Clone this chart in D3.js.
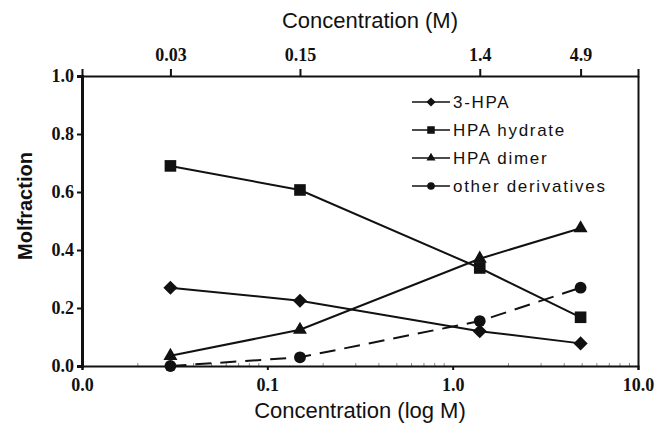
<html>
<head>
<script src="https://d3js.org/d3.v7.min.js"></script>
<style>
  body { margin: 0; background: #fff; }
  svg { display: block; }
  .title { font-family: 'Liberation Sans', Arial, sans-serif; fill: #111; }
</style>
</head>
<body>
<svg width="656" height="431"></svg>
<script>
// data
var concentrations = [0.03, 0.15, 1.4, 4.9];
var hpa = [0.27, 0.225, 0.12, 0.078];
var hydrate = [0.69, 0.607, 0.338, 0.168];
var dimer = [0.035, 0.125, 0.37, 0.475];
var others = [0.0, 0.03, 0.155, 0.27];

var seriesNames = ["3-HPA", "HPA hydrate", "HPA dimer", "other derivatives"];
var seriesMarkers = ["diamond", "square", "triangle", "circle"];

var bottomTicks = [0.01, 0.1, 1, 10];
var bottomTickLabels = ["0.0", "0.1", "1.0", "10.0"];
var topTicks = [0.03, 0.15, 1.4, 4.9];
var topTickLabels = ["0.03", "0.15", "1.4", "4.9"];
var yTicks = [0, 0.2, 0.4, 0.6, 0.8, 1.0];

var svg = d3.select("svg");
// plot box (note: "top" is taken by window.top, so use other names)
var plotLeft = 82, plotRight = 638, plotTop = 76, plotBottom = 366;

var x = d3.scaleLog().domain([0.01, 10]).range([plotLeft, plotRight]);
var y = d3.scaleLinear().domain([0, 1]).range([plotBottom, plotTop]);

// minor log ticks along the bottom
var minor = [];
[0.01, 0.1, 1].forEach(function (d) {
  for (var k = 2; k <= 9; k++) minor.push(d * k);
});
svg.append("g").selectAll("line").data(minor).enter().append("line")
  .attr("x1", function (d) { return x(d); }).attr("x2", function (d) { return x(d); })
  .attr("y1", plotBottom).attr("y2", plotBottom - 3)
  .attr("stroke", "#888").attr("stroke-width", 1);

// axes
var bottomAxis = d3.axisBottom(x).tickValues(bottomTicks).tickSize(4)
  .tickFormat(function (d, i) { return bottomTickLabels[i]; });
var gb = svg.append("g").attr("transform", "translate(0," + plotBottom + ")").call(bottomAxis);

var topAxis = d3.axisTop(x).tickValues(topTicks).tickSize(7)
  .tickFormat(function (d, i) { return topTickLabels[i]; });
var gt = svg.append("g").attr("transform", "translate(0," + plotTop + ")").call(topAxis);

var leftAxis = d3.axisLeft(y).tickValues(yTicks).tickSize(5).tickFormat(d3.format(".1f"));
var gl = svg.append("g").attr("transform", "translate(" + plotLeft + ",0)").call(leftAxis);

var gr = svg.append("g").attr("transform", "translate(" + plotRight + ",0)")
  .call(d3.axisRight(y).tickValues([]).tickSizeOuter(0));

[gb, gt, gl, gr].forEach(function (g) {
  g.attr("font-family", "'Liberation Serif', serif").attr("font-size", 18).attr("font-weight", "bold");
  g.select(".domain").attr("stroke", "#111").attr("stroke-width", 2);
  g.selectAll(".tick line").attr("stroke", "#111").attr("stroke-width", 2);
  g.selectAll(".tick text").attr("fill", "#111");
});
gl.select(".domain").attr("stroke-width", 3);
gb.selectAll(".tick text").attr("dy", "1.0em");
gt.selectAll(".tick text").attr("dy", "-0.3em");
gl.selectAll(".tick text").attr("x", -8);

// series
var series = [hpa, hydrate, dimer, others].map(function (vals, i) {
  return {
    name: seriesNames[i],
    marker: seriesMarkers[i],
    dashed: i === 3,
    points: vals.map(function (v, j) { return { c: concentrations[j], v: v }; })
  };
});

var line = d3.line().x(function (d) { return x(d.c); }).y(function (d) { return y(d.v); });

function symbolPath(marker, scale) {
  if (marker === "diamond") return d3.symbol(d3.symbolSquare, 100 * scale)();
  if (marker === "square") return d3.symbol(d3.symbolSquare, 135 * scale)();
  if (marker === "triangle") return d3.symbol(d3.symbolTriangle, 85 * scale)();
  return d3.symbol(d3.symbolCircle, 110 * scale)();
}

series.forEach(function (s) {
  svg.append("path").datum(s.points)
    .attr("d", line)
    .attr("fill", "none")
    .attr("stroke", "#111")
    .attr("stroke-width", 2)
    .attr("stroke-dasharray", s.dashed ? "16,9" : null);

  svg.append("g").selectAll("path").data(s.points).enter().append("path")
    .attr("d", symbolPath(s.marker, 1))
    .attr("transform", function (d) {
      return "translate(" + x(d.c) + "," + y(d.v) + ")" + (s.marker === "diamond" ? " rotate(45)" : "");
    })
    .attr("fill", "#111");
});

// legend
var legend = svg.append("g").attr("transform", "translate(412,102)");
var rows = legend.selectAll("g").data(series).enter().append("g")
  .attr("transform", function (d, i) { return "translate(0," + (i * 28) + ")"; });
rows.append("line").attr("x1", 0).attr("x2", 38).attr("y1", 0).attr("y2", 0)
  .attr("stroke", "#111").attr("stroke-width", 1.5);
rows.append("path")
  .attr("d", function (d) { return symbolPath(d.marker, 0.42); })
  .attr("transform", function (d) { return "translate(19,0)" + (d.marker === "diamond" ? " rotate(45)" : ""); })
  .attr("fill", "#111");
rows.append("text").attr("class", "title")
  .attr("x", 41).attr("y", 6)
  .attr("font-size", 17).attr("letter-spacing", 1.7)
  .text(function (d) { return d.name; });

// titles
svg.append("text").attr("class", "title")
  .attr("x", 370).attr("y", 28).attr("text-anchor", "middle")
  .attr("font-size", 22)
  .text("Concentration (M)");
svg.append("text").attr("class", "title")
  .attr("x", 360).attr("y", 418).attr("text-anchor", "middle")
  .attr("font-size", 22)
  .text("Concentration (log M)");
svg.append("text").attr("class", "title")
  .attr("transform", "translate(32,206) rotate(-90)")
  .attr("text-anchor", "middle")
  .attr("font-size", 20).attr("font-weight", "bold")
  .text("Molfraction");
</script>
</body>
</html>
